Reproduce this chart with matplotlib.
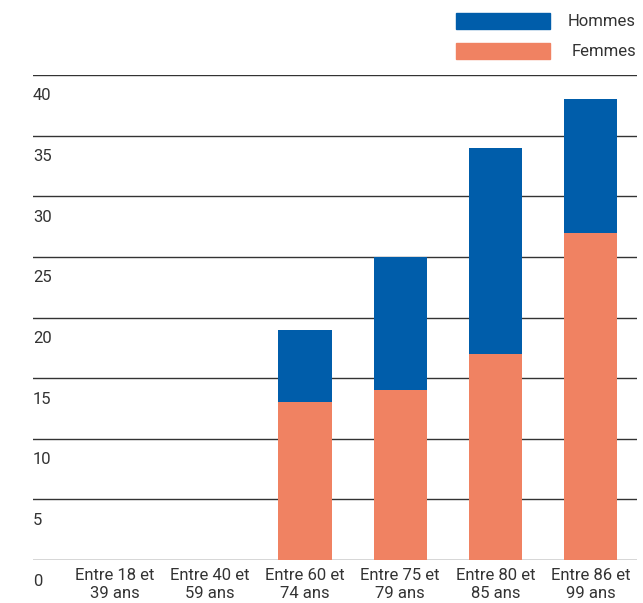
import matplotlib.pyplot as plt
from matplotlib.patches import Rectangle
from matplotlib.transforms import offset_copy, blended_transform_factory

plt.rcParams['font.family'] = ['Roboto', 'DejaVu Sans']

categories = ['Entre 18 et\n39 ans', 'Entre 40 et\n59 ans', 'Entre 60 et\n74 ans',
              'Entre 75 et\n79 ans', 'Entre 80 et\n85 ans', 'Entre 86 et\n99 ans']
femmes = [0, 0, 13, 14, 17, 27]
hommes = [0, 0, 6, 11, 17, 11]
yticks = [0, 5, 10, 15, 20, 25, 30, 35, 40]

blue = '#005DAA'
salmon = '#F08262'
grey = '#333333'

W, H = 643, 603
fig = plt.figure(figsize=(W / 100, H / 100), dpi=100)
ax = fig.add_axes([33 / W, (H - 560) / H, (637 - 33) / W, (560 - 75) / H])

x = range(len(categories))
ax.bar(x, femmes, width=0.56, color=salmon, zorder=3)
ax.bar(x, hommes, width=0.56, bottom=femmes, color=blue, zorder=3)

ax.set_xlim(-0.86, 5.49)
ax.set_ylim(0, 40)
for v in yticks:
    ax.axhline(v, color=grey, lw=1, zorder=1)

for s in ax.spines.values():
    s.set_visible(False)
ax.set_yticks([])
ax.set_xticks(list(x))
ax.set_xticklabels(categories, fontsize=12, color=grey, linespacing=1.2)
ax.tick_params(axis='x', length=0, pad=6)

# y labels sit under their gridline
trans = blended_transform_factory(ax.transAxes, ax.transData)
trans = offset_copy(trans, fig=fig, x=0, y=-21, units='dots')
for v in yticks:
    ax.text(0, v, str(v), transform=trans, ha='left', va='center',
            fontsize=12, color=grey)

# legend, drawn by hand in figure pixels
for label, col, top in [('Hommes', blue, 13), ('Femmes', salmon, 43)]:
    fig.add_artist(Rectangle((456 / W, (H - top - 16) / H), 94 / W, 16 / H,
                             transform=fig.transFigure, color=col))
    fig.text(636 / W, (H - top - 8) / H, label, ha='right', va='center',
             fontsize=12, color=grey)

fig.savefig('out.png', dpi=100)
